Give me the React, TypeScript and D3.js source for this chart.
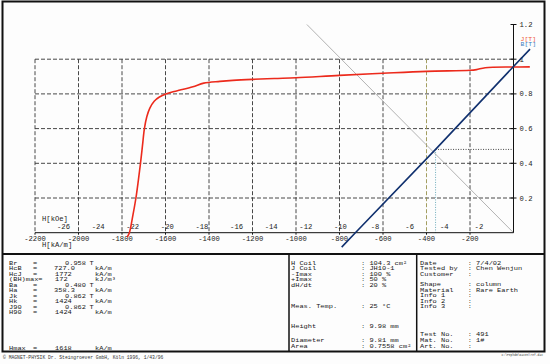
import React from 'react';
import * as d3 from 'd3';

// demagnetisation curves, H in kA/m, J / B in T
const jCurve: [number, number][] = [
  [-1776, -0.025], [-1766, 0], [-1750, 0.1], [-1736, 0.2], [-1725, 0.3],
  [-1715, 0.4], [-1706, 0.5], [-1697, 0.6], [-1686, 0.668], [-1672, 0.718],
  [-1652, 0.758], [-1628, 0.782], [-1598, 0.8], [-1560, 0.814], [-1533, 0.822],
  [-1474, 0.841], [-1424, 0.862], [-1350, 0.872], [-1290, 0.878], [-1200, 0.884],
  [-1100, 0.889], [-1000, 0.893], [-800, 0.907], [-600, 0.919], [-400, 0.93],
  [-200, 0.936], [-170, 0.94], [-130, 0.951], [0, 0.955], [75, 0.956],
];
const bCurve: [number, number][] = [
  [-790, -0.083], [-727, 0], [-358.3, 0.48], [0, 0.958], [76, 1.058],
];
const loadLine: [number, number][] = [[-950, 1.2], [0, 0]];
const workPoint = { h: -358.3, b: 0.48 };

const hTicks = [-2200, -2000, -1800, -1600, -1400, -1200, -1000, -800, -600, -400, -200];
const kOeTicks = [-26, -24, -22, -20, -18, -16, -14, -12, -10, -8, -6, -4, -2];
const yTicks = [0.2, 0.4, 0.6, 0.8, 1, 1.2];
const yGrid = [0.2, 0.4, 0.6, 0.8, 1];

const leftParams = [
  { label: 'Br', eq: '=', value: '0.958', vx: 65, unit: 'T', y: 262.7 },
  { label: 'HcB', eq: '=', value: '727.0', vx: 54, unit: 'kA/m', y: 268.2 },
  { label: 'HcJ', eq: '=', value: '1772', vx: 55, unit: 'kA/m', y: 273.7 },
  { label: '(BH)max=', eq: '', value: '172', vx: 55, unit: 'kJ/m³', y: 279.2 },
  { label: 'Ba', eq: '=', value: '0.480', vx: 65, unit: 'T', y: 284.7 },
  { label: 'Ha', eq: '=', value: '358.3', vx: 54, unit: 'kA/m', y: 290.2 },
  { label: 'Jk', eq: '=', value: '0.862', vx: 65, unit: 'T', y: 295.7 },
  { label: 'Hk', eq: '=', value: '1424', vx: 55, unit: 'kA/m', y: 301.2 },
  { label: 'J90', eq: '=', value: '0.862', vx: 65, unit: 'T', y: 306.7 },
  { label: 'H90', eq: '=', value: '1424', vx: 55, unit: 'kA/m', y: 312.2 },
  { label: 'Hmax', eq: '=', value: '1618', vx: 55, unit: 'kA/m', y: 348.2 },
];

const midParams = [
  { label: 'H Coil', value: ': 104.3 cm²', y: 262.7 },
  { label: 'J Coil', value: ': JH10-1', y: 268.2 },
  { label: '-Imax', value: ': 100 %', y: 273.7 },
  { label: '+Imax', value: ': 50 %', y: 279.2 },
  { label: 'dH/dt', value: ': 20 %', y: 284.7 },
  { label: 'Meas. Temp.', value: ': 25 °C', y: 306 },
  { label: 'Height', value: ': 9.98 mm', y: 326 },
  { label: 'Diameter', value: ': 9.81 mm', y: 340 },
  { label: 'Area', value: ': 0.7558 cm²', y: 345.7 },
];

const rightParams = [
  { label: 'Date', value: ': 7/4/02', y: 262.7 },
  { label: 'Tested by', value: ': Chen Wenjun', y: 268.2 },
  { label: 'Customer', value: ':', y: 273.7 },
  { label: 'Shape', value: ': column', y: 284.2 },
  { label: 'Material', value: ': Rare Earth', y: 289.7 },
  { label: 'Info 1', value: ':', y: 295.2 },
  { label: 'Info 2', value: ':', y: 300.7 },
  { label: 'Info 3', value: ':', y: 306 },
  { label: 'Test No.', value: ': 491', y: 334.3 },
  { label: 'Mat. No.', value: ': 1#', y: 340 },
  { label: 'Art. No.', value: ':', y: 345.7 },
];

const KOE = 79.5775; // kA/m per kOe
const MONO = '"Liberation Mono", "DejaVu Sans Mono", monospace';

// squashed typewriter text like the scanned print
function T({ x, y, children, size = 7, sy = 0.8, anchor = 'start', fill = '#161616' }: any) {
  return (
    <text transform={`translate(${x},${y + 1.9}) scale(1,${sy})`} fontFamily={MONO}
      fontSize={size} textAnchor={anchor} fill={fill} style={{ whiteSpace: 'pre' }}>
      {children}
    </text>
  );
}

export default function App() {
  const x = d3.scaleLinear().domain([-2200, 0]).range([35, 513.5]);
  const y = d3.scaleLinear().domain([0, 1.2]).range([232.7, 24.5]);
  const x0 = x(0), y0 = y(0);

  const line = d3.line<[number, number]>().x(d => x(d[0])).y(d => y(d[1]));
  const smooth = d3.line<[number, number]>().x(d => x(d[0])).y(d => y(d[1])).curve(d3.curveCatmullRom.alpha(0.5));

  return (
    <svg width={550} height={364} style={{ position: 'absolute', left: 0, top: 0, background: '#fdfdfd' }}>
      {/* frame */}
      <rect x={2.5} y={1.5} width={542} height={350} fill="none" stroke="#111" strokeWidth={2} />
      <line x1={2.5} x2={544.5} y1={254} y2={254} stroke="#111" strokeWidth={2} />
      <line x1={289} x2={289} y1={254} y2={351.5} stroke="#111" strokeWidth={1.5} />
      <line x1={416.7} x2={416.7} y1={254} y2={351.5} stroke="#111" strokeWidth={1.5} />

      {/* grid */}
      {yGrid.map(v => (
        <line key={'gy' + v} x1={x(-2200)} x2={x0} y1={y(v)} y2={y(v)} stroke="#333" strokeDasharray="4,2" strokeWidth={0.9} />
      ))}
      {hTicks.map(h => (
        <line key={'gx' + h} x1={x(h)} x2={x(h)} y1={y(1)} y2={y0}
          stroke={h === -400 ? '#9a9450' : '#333'} strokeDasharray="4,2" strokeWidth={0.9} />
      ))}

      {/* working point guides */}
      <line x1={x(workPoint.h)} x2={x(workPoint.h)} y1={y(workPoint.b)} y2={y0} stroke="#6aaabb" strokeDasharray="1,1.5" strokeWidth={1} />
      <line x1={x(workPoint.h)} x2={x0} y1={y(workPoint.b)} y2={y(workPoint.b)} stroke="#444" strokeDasharray="1,1.5" strokeWidth={1} />

      {/* load line */}
      <path d={line(loadLine) ?? ''} fill="none" stroke="#a0a0a0" strokeWidth={0.8} />

      {/* axes */}
      <line x1={x(-2200)} x2={x0} y1={y0} y2={y0} stroke="#111" strokeWidth={1} />
      {hTicks.map(h => (
        <line key={'tx' + h} x1={x(h)} x2={x(h)} y1={y0} y2={y0 + 2} stroke="#111" />
      ))}
      <line x1={x0} x2={x0} y1={y(1.2)} y2={y0} stroke="#111" strokeWidth={1} />
      {yTicks.map(v => (
        <g key={'ty' + v}>
          <line x1={x0 - 3} x2={x0 + 3} y1={y(v)} y2={y(v)} stroke="#111" />
          <text x={x0 + 6} y={y(v) + 2.5} fontFamily={MONO} fontSize={7.2} fill="#222">{v === 1 ? '1' : v.toFixed(1)}</text>
        </g>
      ))}
      <T x={x0 + 7} y={39} size={6.5} sy={0.7} fill="#ee5a3a">J[T]</T>
      <T x={x0 + 7} y={44} size={6.5} sy={0.7} fill="#3a80c0">B[T]</T>

      {hTicks.map(h => (
        <text key={'lx' + h} x={x(h)} y={y0 + 8} fontFamily={MONO} fontSize={7.2} textAnchor="middle" fill="#222">{h}</text>
      ))}
      {kOeTicks.map(k => (
        <text key={'lk' + k} x={x(k * KOE)} y={y0 - 3.5} fontFamily={MONO} fontSize={7.2} textAnchor="middle" fill="#222">{k}</text>
      ))}
      <text x={42} y={y0 - 12} fontFamily={MONO} fontSize={7.2} fill="#222">H[kOe]</text>
      <text x={42} y={y0 + 14.5} fontFamily={MONO} fontSize={7.2} fill="#222">H[kA/m]</text>

      {/* curves */}
      <path d={smooth(jCurve) ?? ''} fill="none" stroke="#ec2a1c" strokeWidth={1.6} />
      <path d={line(bCurve) ?? ''} fill="none" stroke="#10306e" strokeWidth={1.6} />

      {/* parameter table */}
      {leftParams.map(p => (
        <g key={p.label}>
          <T x={9} y={p.y}>{p.label}</T>
          {p.eq && <T x={33} y={p.y}>{p.eq}</T>}
          <T x={p.vx} y={p.y}>{p.value}</T>
          <T x={p.unit === 'T' ? 89.5 : 95} y={p.y}>{p.unit}</T>
        </g>
      ))}
      {midParams.map(p => (
        <g key={p.label}>
          <T x={291} y={p.y}>{p.label}</T>
          <T x={361} y={p.y}>{p.value}</T>
        </g>
      ))}
      {rightParams.map(p => (
        <g key={p.label}>
          <T x={420} y={p.y}>{p.label}</T>
          <T x={467.7} y={p.y}>{p.value}</T>
        </g>
      ))}

      <text x={3} y={359} fontFamily={MONO} fontSize={4.7} fill="#333">© MAGNET-PHYSIK Dr. Steingroever GmbH, Köln 1996, 1/43/96</text>
      <text x={543} y={356} fontFamily={MONO} fontSize={3} textAnchor="end" fill="#333">C:\Pephd0\Daten\ref.dat</text>
    </svg>
  );
}
